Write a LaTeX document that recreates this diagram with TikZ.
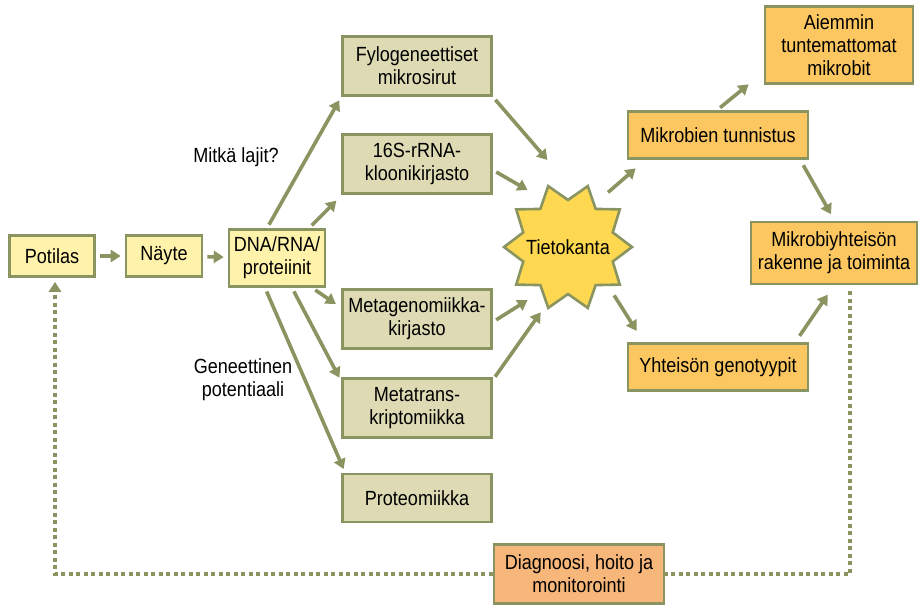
\documentclass[tikz,border=0pt]{standalone}
\usepackage{fontspec}
\setmainfont{Liberation Sans}[FakeStretch=0.88]
\usetikzlibrary{arrows.meta,shapes.geometric}
\definecolor{olive}{RGB}{138,148,96}
\definecolor{paleyellow}{RGB}{255,242,170}
\definecolor{beige}{RGB}{221,218,180}
\definecolor{amber}{RGB}{252,198,96}
\definecolor{peach}{RGB}{247,182,122}
\definecolor{gold}{RGB}{253,216,80}
\begin{document}
\begin{tikzpicture}[
        x=1pt,y=-1pt,
        font=\fontsize{20.5}{23}\selectfont,
        box/.style={draw=olive,line width=2.6pt,align=center,inner sep=2pt},
        startbox/.style={box,fill=paleyellow},
        methodbox/.style={box,fill=beige,minimum width=149pt,minimum height=59pt},
        resultbox/.style={box,fill=amber},
        arr/.style={draw=olive,line width=3.6pt,-{Triangle[length=10pt,width=12pt]},
            shorten <=4pt,shorten >=4pt},
        feedback/.style={draw=olive,line width=3.6pt,dash pattern=on 4pt off 3.5pt}
    ]
        \useasboundingbox (0,0) rectangle (923,606);
        % Start
        \node[startbox,minimum width=85pt,minimum height=41pt] (pot) at (52,256) {Potilas};
        \node[startbox,minimum width=76pt,minimum height=41pt] (nay) at (164,256) {Näyte};
        \node[startbox,minimum width=96pt,minimum height=57pt] (dna) at (277,258) {DNA/RNA/\\proteiinit};
        
        % Methods
        \node[methodbox] (fyl) at (417,66) {Fylogeneettiset\\mikrosirut};
        \node[methodbox] (kl) at (417,164) {16S-rRNA-\\kloonikirjasto};
        \node[methodbox] (mg) at (417,319) {Metagenomiikka-\\kirjasto};
        \node[methodbox] (mt) at (417,408) {Metatrans-\\kriptomiikka};
        \node[methodbox,minimum height=48pt] (prot) at (417,498) {Proteomiikka};
        
        % Database
        \node[star,star points=10,star point ratio=1.36,shape border rotate=18,
            minimum size=128pt,inner sep=0pt,draw=olive,line width=2.6pt,fill=gold,
            label=center:Tietokanta] (db) at (568,247) {};
        
        % Results
        \node[resultbox,minimum width=180pt,minimum height=47pt] (tun) at (718,135) {Mikrobien tunnistus};
        \node[resultbox,minimum width=148pt,minimum height=77pt] (uudet) at (839,45) {Aiemmin\\tuntemattomat\\mikrobit};
        \node[resultbox,minimum width=166pt,minimum height=62pt] (yht) at (834,253) {Mikrobiyhteisön\\rakenne ja toiminta};
        \node[resultbox,minimum width=180pt,minimum height=47pt] (gen) at (718,367) {Yhteisön genotyypit};
        \node[box,fill=peach,minimum width=170pt,minimum height=59pt] (diag) at (579,574) {Diagnoosi, hoito ja\\monitorointi};
        
        % Questions
        \node (laji) at (236,157) {Mitkä lajit?};
        \node[align=center] (pot2) at (243,380) {Geneettinen\\potentiaali};
        
        % Arrows
        \draw[arr] (pot) -- (nay);
        \draw[arr] (nay) -- (dna);
        \draw[arr] ([shift={(-10,0)}]dna.north) -- (fyl.south west);
        \draw[arr] ([shift={(32,0)}]dna.north) -- ([shift={(-2,3)}]kl.south west);
        \draw[arr] ([shift={(-12,0)}]dna.south) -- ([shift={(4,0)}]prot.north west);
        \draw[arr] ([shift={(15,0)}]dna.south) -- ([shift={(0,4)}]mt.north west);
        \draw[arr] ([shift={(35,0)}]dna.south) -- ([shift={(-2,18)}]mg.north west);
        \draw[arr] (fyl.south east) -- ([shift={(-18,-84)}]db.center);
        \draw[arr] ([shift={(0,6)}]kl.east) -- ([shift={(-37,-55)}]db.center);
        \draw[arr] ([shift={(0,3)}]mg.east) -- ([shift={(-37,51)}]db.center);
        \draw[arr] ([shift={(0,-28)}]mt.east) -- ([shift={(-25,62)}]db.center);
        \draw[arr] ([shift={(37,-52)}]db.center) -- ([shift={(12,6)}]tun.south west);
        \draw[arr] ([shift={(44,45)}]db.center) -- ([shift={(12,-8)}]gen.north west);
        \draw[arr] ([shift={(-1,0)}]tun.north) -- ([shift={(-12,-3)}]uudet.south west);
        \draw[arr] ([shift={(-8,2)}]tun.south east) -- ([shift={(-1,-3)}]yht.north);
        \draw[arr] ([shift={(-12,-3)}]gen.north east) -- ([shift={(-4,6)}]yht.south);
        
        % Feedback loop
        \draw[feedback,shorten <=6pt] ([shift={(16,0)}]yht.south) |- (diag.east);
        \draw[feedback,-{Triangle[length=10pt,width=12pt]},shorten >=4pt] (diag.west) -| ([shift={(3,0)}]pot.south);
    \end{tikzpicture}
\end{document}
